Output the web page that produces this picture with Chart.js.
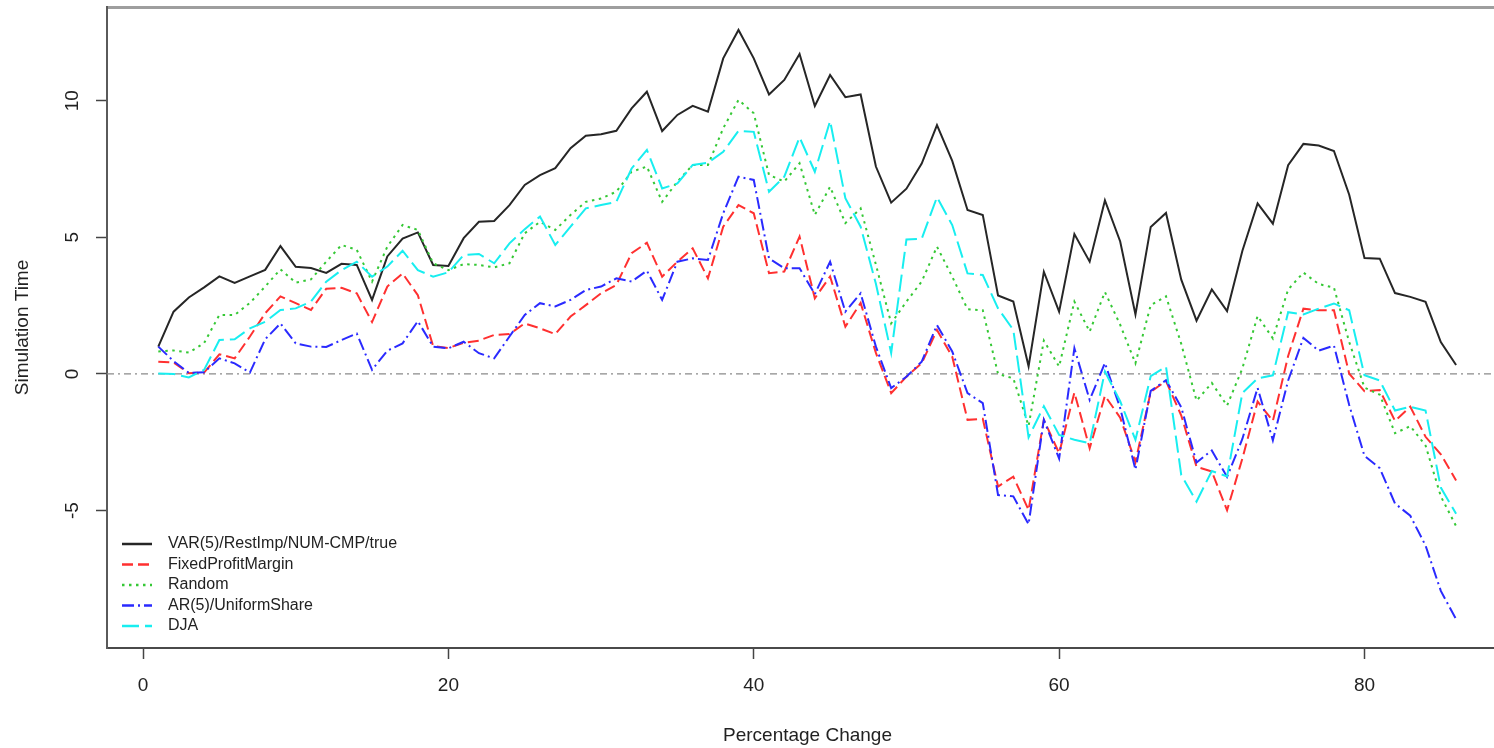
<!DOCTYPE html>
<html>
<head>
<meta charset="utf-8">
<script src="https://cdn.jsdelivr.net/npm/chart.js@4.4.1/dist/chart.umd.min.js"></script>
<style>
  html, body { margin: 0; padding: 0; background: #fff; overflow: hidden; }
  #wrap { position: absolute; left: 0; top: 0; width: 1510px; height: 748px; }
</style>
</head>
<body>
<div id="wrap"><canvas id="myChart" width="1510" height="748"></canvas></div>
<script>
const seriesNames = ["VAR(5)/RestImp/NUM-CMP/true", "FixedProfitMargin", "Random", "AR(5)/UniformShare", "DJA"]

const varRestImp = [1.00, 2.28, 2.80, 3.17, 3.57, 3.33, 3.57, 3.81, 4.68, 3.92,
  3.88, 3.70, 4.03, 3.99, 2.71, 4.30, 4.95, 5.18, 3.99, 3.95,
  4.97, 5.57, 5.60, 6.18, 6.92, 7.28, 7.53, 8.26, 8.72, 8.77,
  8.90, 9.72, 10.33, 8.89, 9.48, 9.81, 9.60, 11.55, 12.59, 11.55,
  10.23, 10.76, 11.71, 9.81, 10.94, 10.13, 10.23, 7.59, 6.27, 6.78,
  7.70, 9.11, 7.80, 6.00, 5.82, 2.87, 2.65, 0.28, 3.74, 2.28,
  5.12, 4.11, 6.35, 4.85, 2.18, 5.38, 5.89, 3.45, 1.95, 3.09,
  2.30, 4.50, 6.24, 5.50, 7.64, 8.42, 8.36, 8.16, 6.56, 4.24,
  4.22, 2.96, 2.82, 2.64, 1.17, 0.33]

const fixedProfit = [0.45, 0.42, 0.03, 0.05, 0.72, 0.57, 1.37, 2.22, 2.84, 2.59,
  2.34, 3.12, 3.15, 2.95, 1.90, 3.20, 3.68, 2.88, 1.02, 0.95,
  1.14, 1.22, 1.43, 1.46, 1.85, 1.67, 1.46, 2.10, 2.52, 2.95,
  3.26, 4.42, 4.80, 3.56, 4.11, 4.60, 3.50, 5.39, 6.18, 5.88,
  3.69, 3.75, 5.03, 2.77, 3.57, 1.73, 2.60, 0.77, -0.70, -0.10,
  0.39, 1.61, 0.63, -1.68, -1.64, -4.12, -3.76, -4.98, -1.68, -2.90,
  -0.68, -2.72, -0.80, -1.60, -3.23, -0.65, -0.26, -1.52, -3.40, -3.57,
  -4.99, -3.10, -1.01, -1.72, 0.66, 2.39, 2.33, 2.33, 0.01, -0.63,
  -0.59, -1.72, -1.20, -2.30, -2.94, -3.90]

const randomSeries = [0.82, 0.86, 0.78, 1.13, 2.16, 2.16, 2.60, 3.20, 3.83, 3.34,
  3.46, 4.11, 4.72, 4.54, 3.38, 4.66, 5.45, 5.27, 4.05, 3.80,
  4.02, 3.99, 3.90, 4.05, 5.15, 5.57, 5.27, 5.82, 6.30, 6.42,
  6.67, 7.40, 7.59, 6.30, 7.04, 7.65, 7.65, 8.99, 10.03, 9.54,
  7.28, 7.04, 7.71, 5.82, 6.85, 5.52, 6.06, 4.00, 1.85, 2.65,
  3.38, 4.66, 3.56, 2.37, 2.33, 0.00, -0.16, -1.90, 1.22, 0.27,
  2.65, 1.55, 3.00, 1.80, 0.39, 2.52, 2.84, 1.10, -0.98, -0.33,
  -1.16, 0.20, 2.12, 1.30, 3.09, 3.71, 3.29, 3.16, 1.17, -0.50,
  -0.76, -2.17, -1.91, -2.62, -4.48, -5.57]

const arUniform = [1.00, 0.47, 0.04, 0.06, 0.57, 0.39, 0.05, 1.27, 1.85, 1.12,
  1.00, 0.99, 1.24, 1.48, 0.15, 0.85, 1.12, 1.93, 1.00, 0.94,
  1.18, 0.76, 0.57, 1.37, 2.16, 2.59, 2.47, 2.71, 3.07, 3.20,
  3.50, 3.38, 3.78, 2.71, 4.11, 4.23, 4.17, 5.88, 7.22, 7.10,
  4.23, 3.87, 3.87, 2.92, 4.11, 2.28, 2.95, 1.00, -0.52, -0.10,
  0.45, 1.79, 0.82, -0.70, -1.07, -4.43, -4.48, -5.50, -1.68, -3.10,
  0.94, -0.95, 0.40, -1.25, -3.50, -0.62, -0.23, -1.22, -3.24, -2.80,
  -3.77, -2.38, -0.51, -2.43, -0.24, 1.32, 0.85, 1.04, -1.14, -3.00,
  -3.45, -4.74, -5.19, -6.28, -7.94, -8.98]

const dja = [0.02, 0.00, -0.13, 0.15, 1.24, 1.27, 1.67, 1.91, 2.34, 2.40,
  2.65, 3.38, 3.80, 4.11, 3.56, 3.93, 4.51, 3.80, 3.56, 3.72,
  4.35, 4.39, 4.05, 4.78, 5.30, 5.76, 4.72, 5.39, 6.06, 6.18,
  6.30, 7.52, 8.20, 6.79, 6.97, 7.65, 7.73, 8.13, 8.90, 8.86,
  6.67, 7.22, 8.66, 7.40, 9.26, 6.43, 5.39, 3.30, 0.77, 4.92,
  4.95, 6.47, 5.45, 3.68, 3.62, 2.40, 1.61, -2.32, -1.18, -2.23,
  -2.41, -2.54, 0.09, -1.00, -2.41, -0.08, 0.27, -3.70, -4.67, -3.55,
  -3.75, -0.70, -0.16, -0.05, 2.26, 2.18, 2.39, 2.58, 2.33, -0.05,
  -0.24, -1.34, -1.20, -1.34, -4.16, -5.12]

const xTickValues = [0, 20, 40, 60, 80]
const yTickValues = [-5, 0, 5, 10]
const xTitle = "Percentage Change"
const yTitle = "Simulation Time"

const fontFamily = '"Liberation Sans", Arial, sans-serif'

function toPoints(values) {
  // step number on x is the position in the series, starting at 1
  return values.map((v, i) => ({ x: i + 1, y: v }))
}

const zeroLine = {
  id: "zeroLine",
  beforeDatasetsDraw(chart) {
    const { ctx, chartArea, scales } = chart
    const y0 = scales.y.getPixelForValue(0)
    ctx.save()
    ctx.strokeStyle = "#8a8a8a"
    ctx.lineWidth = 1.3
    ctx.setLineDash([7, 4, 2, 4])
    ctx.beginPath()
    ctx.moveTo(chartArea.left, y0)
    ctx.lineTo(chartArea.right, y0)
    ctx.stroke()
    ctx.restore()
  }
}

const insideLegend = {
  id: "insideLegend",
  afterDatasetsDraw(chart) {
    const { ctx, chartArea } = chart
    ctx.save()
    ctx.font = "16px " + fontFamily
    ctx.textBaseline = "middle"
    chart.data.datasets.forEach((ds, i) => {
      const y = chartArea.bottom - 104 + i * 20.5
      ctx.strokeStyle = ds.borderColor
      ctx.lineWidth = ds.borderWidth + 0.5
      ctx.setLineDash(ds.borderDash || [])
      ctx.beginPath()
      ctx.moveTo(chartArea.left + 15, y)
      ctx.lineTo(chartArea.left + 45, y)
      ctx.stroke()
      ctx.setLineDash([])
      ctx.fillStyle = "#222"
      ctx.fillText(ds.label, chartArea.left + 61, y)
    })
    ctx.restore()
  }
}

const ctx = document.querySelector("#myChart")

const chart = new Chart(ctx, {
  type: "line",
  data: {
    datasets: [
      { label: seriesNames[0], data: toPoints(varRestImp), borderColor: "#262626", borderWidth: 2, order: 4 },
      { label: seriesNames[1], data: toPoints(fixedProfit), borderColor: "#ff3030", borderWidth: 2, borderDash: [11, 5], order: 3 },
      { label: seriesNames[2], data: toPoints(randomSeries), borderColor: "#35c835", borderWidth: 2, borderDash: [2.5, 4.5], order: 2 },
      { label: seriesNames[3], data: toPoints(arUniform), borderColor: "#2a2aff", borderWidth: 2, borderDash: [12, 4, 2, 4], order: 1 },
      { label: seriesNames[4], data: toPoints(dja), borderColor: "#18eef0", borderWidth: 2, borderDash: [17, 6], order: 0 }
    ]
  },
  options: {
    responsive: false,
    devicePixelRatio: 1,
    animation: false,
    layout: { padding: { top: 7, right: 2, left: 0, bottom: 0 } },
    elements: { point: { radius: 0 }, line: { tension: 0, fill: false } },
    plugins: { legend: { display: false }, tooltip: { enabled: false } },
    scales: {
      x: {
        type: "linear",
        position: "bottom",
        min: -2.36,
        max: 89.4,
        afterBuildTicks: s => { s.ticks = xTickValues.map(v => ({ value: v })) },
        afterFit: s => { s.height = 100; s.paddingLeft = 0; s.paddingRight = 0 },
        ticks: { color: "#222", padding: 15, maxRotation: 0, font: { size: 19, family: fontFamily } },
        grid: { display: true, drawOnChartArea: false, drawTicks: true, tickLength: 11, tickColor: "#444", tickWidth: 1.5 },
        border: { display: true, color: "#4a4a4a", width: 2 },
        title: { display: true, text: xTitle, color: "#222", font: { size: 19, family: fontFamily }, padding: { top: 0, bottom: 1 } }
      },
      xTop: {
        type: "linear",
        axis: "x",
        position: "top",
        min: -2.36,
        max: 89.4,
        afterFit: s => { s.height = 0; s.paddingLeft = 0; s.paddingRight = 0 },
        ticks: { display: false },
        grid: { display: true, drawOnChartArea: false, drawTicks: false },
        border: { display: true, color: "#9e9e9e", width: 3 }
      },
      y: {
        type: "linear",
        position: "left",
        min: -10.03,
        max: 13.43,
        afterBuildTicks: s => { s.ticks = yTickValues.map(v => ({ value: v })) },
        afterFit: s => { s.width = 107; s.paddingTop = 0; s.paddingBottom = 0 },
        ticks: { color: "#222", padding: 13, minRotation: 90, maxRotation: 90, crossAlign: "center", font: { size: 19, family: fontFamily } },
        grid: { display: true, drawOnChartArea: false, drawTicks: true, tickLength: 11, tickColor: "#444", tickWidth: 1.5 },
        border: { display: true, color: "#5a5a5a", width: 2 },
        title: { display: true, text: yTitle, color: "#222", font: { size: 19, family: fontFamily }, padding: { top: 11, bottom: 0 } }
      }
    }
  },
  plugins: [zeroLine, insideLegend]
})
</script>
</body>
</html>
